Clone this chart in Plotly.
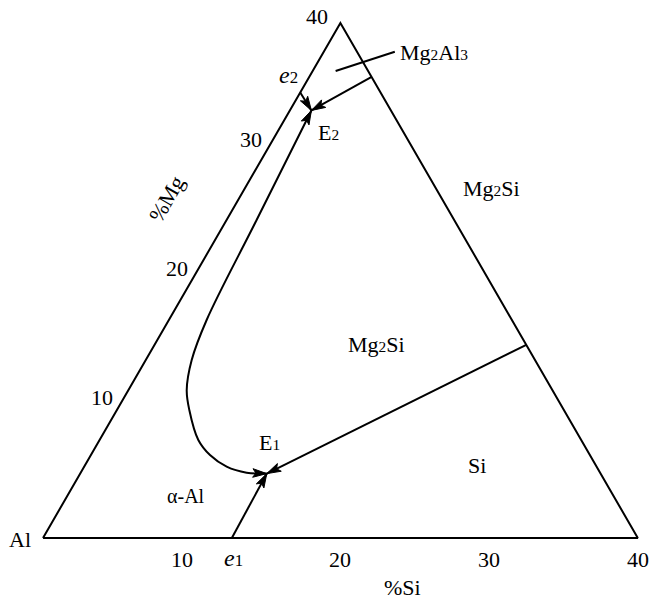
import numpy as np
import plotly.graph_objects as go

# ---- composition data (wt.% Si, wt.% Mg) ----------------------------------
corner_si = [0.0, 0.0, 40.0, 0.0]          # Al corner -> 40% Mg -> 40% Si -> Al
corner_mg = [0.0, 40.0, 0.0, 0.0]

e1_si, e1_mg = 12.7, 0.0                   # binary eutectic Al-Si
E1_si, E1_mg = 12.55, 5.0                  # ternary eutectic Al + Mg2Si + Si
P1_si, P1_mg = 25.0, 15.0                  # Mg2Si/Si valley on the 60% Al edge
e2_si, e2_mg = 0.0, 34.6                   # binary eutectic Al-Mg
E2_si, E2_mg = 1.45, 33.2                  # ternary eutectic Al + Mg2Si + Mg2Al3
P2_si, P2_mg = 4.2, 35.8                   # Mg2Si/Mg2Al3 valley on the 60% Al edge

# quasi-binary Al-Mg2Si valley, running from E2 down to E1
valley_si = [1.45, 2.02, 2.54, 3.09, 3.92, 4.87, 6.64, 8.01, 9.58, 11.16, 12.55]
valley_mg = [33.2, 24.69, 16.93, 13.82, 11.49, 9.94, 7.61, 6.44, 5.54, 5.07, 5.0]

# leader line for the Mg2Al3 field label
leader_si = [1.55, 4.78]
leader_mg = [36.26, 37.76]

mg_ticks = [10, 20, 30, 40]
si_ticks = [10, 20, 30, 40]

# ---- geometry helpers -----------------------------------------------------
SQ = np.sqrt(3) / 2
PX = 14.87            # pixels per composition unit
FONT = "Liberation Serif"


def sub(s):
    return '<span style="font-size:70%">' + s + "</span>"


def cart(si, mg):
    si = np.asarray(si, dtype=float)
    mg = np.asarray(mg, dtype=float)
    return si + mg / 2, mg * SQ


def head(tip, tail, length=14, half=4.3, notch=0.78):
    """Filled, slightly barbed arrowhead polygon with its point at tip."""
    tx, ty = tip
    d = np.array([tx - tail[0], ty - tail[1]], dtype=float)
    d /= np.hypot(*d)
    n = np.array([-d[1], d[0]])
    L, H = length / PX, half / PX
    back = np.array([tx, ty]) - L * d
    pts = [np.array([tx, ty]), back + H * n, np.array([tx, ty]) - notch * L * d,
           back - H * n, np.array([tx, ty])]
    return [p[0] for p in pts], [p[1] for p in pts]


LINE = dict(color="black", width=2)
fig = go.Figure()


def add_line(x, y, shape="linear"):
    fig.add_trace(go.Scatter(x=x, y=y, mode="lines", line=dict(LINE, shape=shape),
                             hoverinfo="skip", cliponaxis=False))


def add_head(tip, tail):
    hx, hy = head(tip, tail)
    fig.add_trace(go.Scatter(x=hx, y=hy, mode="lines", fill="toself",
                             fillcolor="black", line=dict(color="black", width=1),
                             hoverinfo="skip", cliponaxis=False))


# triangle outline
tx, ty = cart(corner_si, corner_mg)
add_line(tx, ty)

# straight valleys, each ending in an arrow at its invariant point
E1 = cart(E1_si, E1_mg)
E2 = cart(E2_si, E2_mg)
for (s0, m0), tip in [((e1_si, e1_mg), E1), ((P1_si, P1_mg), E1),
                      ((e2_si, e2_mg), E2), ((P2_si, P2_mg), E2)]:
    start = cart(s0, m0)
    add_line([float(start[0]), float(tip[0])], [float(start[1]), float(tip[1])])
    add_head((float(tip[0]), float(tip[1])), (float(start[0]), float(start[1])))

# curved Al-Mg2Si valley with arrows at both ends
vx, vy = cart(valley_si, valley_mg)
add_line(vx, vy, shape="spline")
add_head((vx[-1], vy[-1]), (vx[-2], vy[-2]))
add_head((vx[0], vy[0]), (vx[1], vy[1]))

# Mg2Al3 leader
lx, ly = cart(leader_si, leader_mg)
add_line(lx, ly)

# ---- text -----------------------------------------------------------------
ann = []


def label(x, y, text, size=22, xs=0, ys=0, xanchor="center", angle=0):
    ann.append(dict(x=float(x), y=float(y), xref="x", yref="y", text=text,
                    showarrow=False, xshift=xs, yshift=ys, xanchor=xanchor,
                    yanchor="middle", textangle=angle,
                    font=dict(family=FONT, size=size, color="black")))


# %Mg tick labels along the left edge
for v in mg_ticks:
    x, y = cart(0, v)
    if v == 40:
        label(x, y, str(v), xs=-23, ys=6)
    else:
        label(x, y, str(v), xs=-15, ys=12)

# %Si tick labels along the base
for v in si_ticks:
    x, y = cart(v, 0)
    label(x, y, str(v), xs=-10 if v == 10 else 0, ys=-21)

ox, oy = cart(0, 0)
label(ox, oy, "Al", xs=-23, ys=-1)

label(*cart(e1_si, e1_mg), "<i>e</i>" + sub("1"), size=24, xs=2, ys=-20)
label(*cart(e2_si, e2_mg), "<i>e</i>" + sub("2"), size=24, xs=-12, ys=17)
label(*E1, "E" + sub("1"), xs=3, ys=31)
label(*E2, "E" + sub("2"), xs=17, ys=-22)
label(lx[-1], ly[-1], "Mg" + sub("2") + "Al" + sub("3"), xs=3, ys=-1, xanchor="left")


def paper_label(px, py, text, size=22, angle=0):
    ann.append(dict(x=px / 651, y=1 - py / 600, xref="paper", yref="paper", text=text,
                    showarrow=False, xanchor="center", yanchor="middle", textangle=angle,
                    font=dict(family=FONT, size=size, color="black")))


paper_label(186, 496, "α-Al", size=20)
paper_label(376, 344, "Mg" + sub("2") + "Si")
paper_label(492, 189, "Mg" + sub("2") + "Si")
paper_label(477, 465, "Si")
paper_label(402, 587, "%Si")
paper_label(166, 199, "%Mg", angle=-60)

fig.update_layout(
    width=651, height=600,
    margin=dict(l=0, r=0, t=0, b=0),
    paper_bgcolor="white", plot_bgcolor="white",
    showlegend=False,
    annotations=ann,
    xaxis=dict(range=[-43 / PX, 608 / PX], visible=False, fixedrange=True),
    yaxis=dict(range=[-62 / PX, 538 / PX], visible=False, fixedrange=True),
)

fig.write_html("out.html")
